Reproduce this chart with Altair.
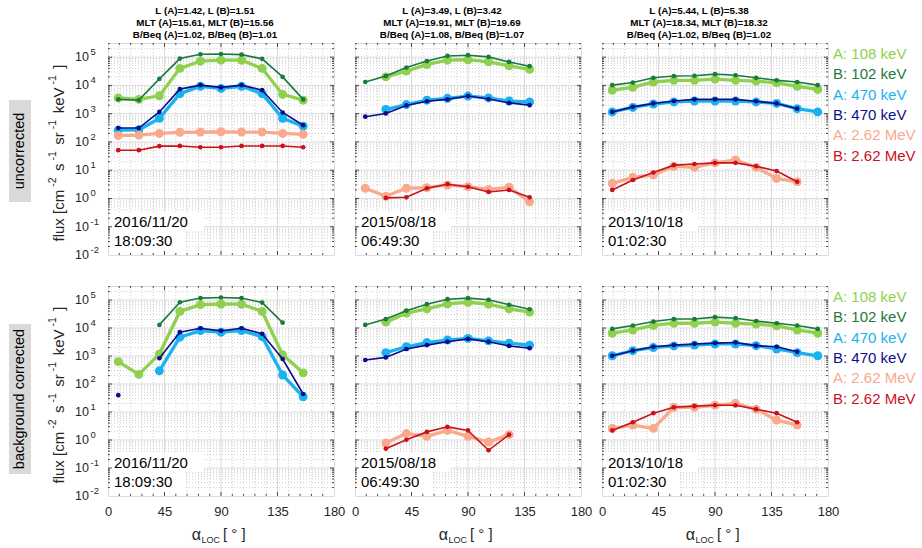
import altair as alt
import pandas as pd

# Pitch-angle bin centres: 11 equal bins spanning 0-180 deg
ALPHA_LOC = [8.18, 24.55, 40.91, 57.27, 73.64, 90.00, 106.36, 122.73, 139.09, 155.45, 171.82]

SERIES = ["A: 108 keV", "B: 102 keV", "A: 470 keV", "B: 470 keV", "A: 2.62 MeV", "B: 2.62 MeV"]
COLORS = ["#8fd14f", "#1b7a3d", "#18b2ef", "#0d0d8c", "#f9a98c", "#c8121e"]

DATES = ["2016/11/20", "2015/08/18", "2013/10/18"]
TIMES = ["18:09:30", "06:49:30", "01:02:30"]

L_LINES = ["L (A)=1.42, L (B)=1.51", "L (A)=3.49, L (B)=3.42", "L (A)=5.44, L (B)=5.38"]
MLT_LINES = ["MLT (A)=15.61, MLT (B)=15.56", "MLT (A)=19.91, MLT (B)=19.69", "MLT (A)=18.34, MLT (B)=18.32"]
BEQ_LINES = ["B/Beq (A)=1.02, B/Beq (B)=1.01", "B/Beq (A)=1.08, B/Beq (B)=1.07", "B/Beq (A)=1.02, B/Beq (B)=1.02"]

ROW_LABELS = ["uncorrected", "background corrected"]

# ---- fluxes, uncorrected ----
unc16_a108 = [3600, 3200, 4300, 40000, 72000, 78000, 78000, 40000, 4800, 3000]
unc16_b102 = [3200, 3000, 17000, 89000, 126000, 129000, 123000, 87000, 20000, 3200]
unc16_a470 = [260, 270, 680, 5100, 9300, 7800, 9300, 5100, 680, 360]
unc16_b470 = [310, 310, 1150, 7400, 10200, 8500, 10200, 6800, 1100, 390]
unc16_a262 = [166, 174, 200, 219, 224, 229, 224, 224, 200, 186]
unc16_b262 = [51, 51, 71, 72, 65, 65, 72, 72, 72, 65]

unc15_a108 = [None, 20000, 32000, 55000, 78000, 81000, 68000, 49000, 37000]
unc15_b102 = [13200, 21400, 42700, 72400, 110000, 117000, 102000, 67600, 47900]
unc15_a470 = [None, 1400, 2100, 3000, 3500, 4200, 3600, 2800, 2600]
unc15_b470 = [780, 1020, 1950, 2750, 3200, 4200, 3300, 2400, 2000]
unc15_a262 = [2.3, 1.2, 2.3, 2.4, 3.0, 2.6, 2.1, 2.5, 0.76]
unc15_b262 = [None, 1.05, 1.1, 2.3, 3.2, 2.6, 1.7, 2.0, 1.1]

unc13_a108 = [6800, 8500, 13200, 15100, 15100, 16600, 15100, 14100, 12300, 9300, 7200]
unc13_b102 = [10200, 12600, 18600, 21400, 21900, 25100, 22900, 18600, 15100, 13200, 10200]
unc13_a470 = [1150, 1660, 2200, 2600, 2800, 2800, 2800, 2600, 2300, 1500, 1150]
unc13_b470 = [1150, 1740, 2300, 2800, 3200, 3200, 3200, 2750, 2300, 1500, None]
unc13_a262 = [3.4, 5.6, 6.8, 13.8, 12.6, 18.2, 22.9, 12.6, 5.1, 3.9, None]
unc13_b262 = [2.0, 4.5, 8.3, 15.1, 16.6, 18.2, 18.2, 13.8, 9.3, 3.9, None]

# ---- fluxes, background corrected ----
cor16_a108 = [630, 220, 1170, 39000, 68000, 72000, 71000, 39000, 1100, 250]
cor16_b102 = [None, None, 12900, 83000, 117000, 123000, 117000, 81000, 15500, None]
cor16_a470 = [None, None, 295, 4700, 8100, 7100, 8100, 4900, 210, 35]
cor16_b470 = [40, None, 830, 7100, 9800, 7900, 9800, 6200, 780, 44]
cor16_a262 = [None] * 10
cor16_b262 = [None] * 10

cor15_a108 = [None, 16200, 33900, 47900, 72400, 83200, 70800, 47900, 37200]
cor15_b102 = [12900, 20900, 41700, 70800, 107000, 117000, 102000, 67600, 46800]
cor15_a470 = [None, 1320, 2140, 3020, 3720, 4270, 3470, 2880, 2450]
cor15_b470 = [720, 890, 1780, 2450, 3240, 4070, 3240, 2290, 1910]
cor15_a262 = [None, 0.78, 1.7, 1.35, 2.2, 1.35, 0.85, 1.55, None]
cor15_b262 = [None, 0.49, 1.02, 1.95, 2.95, 2.2, 0.43, 1.55, None]

cor13_a108 = [6500, 8500, 12300, 14800, 14800, 16200, 14800, 13800, 12000, 8500, 6500]
cor13_b102 = [9300, 12300, 17000, 20900, 20900, 24500, 22400, 17800, 14800, 12300, 9300]
cor13_a470 = [1020, 1550, 2000, 2290, 2450, 2690, 2690, 2340, 1780, 1320, 1020]
cor13_b470 = [1020, 1550, 2140, 2450, 2690, 2880, 3020, 2340, 2140, 1410, None]
cor13_a262 = [2.6, 3.4, 2.6, 14.8, 14.8, 17.4, 20.4, 12.6, 5.1, 3.4, None]
cor13_b262 = [2.2, 4.3, 9.1, 14.8, 16.2, 17.4, 17.4, 12.6, 9.1, 4.3, None]

PANELS = [
    [[unc16_a108, unc16_b102, unc16_a470, unc16_b470, unc16_a262, unc16_b262],
     [unc15_a108, unc15_b102, unc15_a470, unc15_b470, unc15_a262, unc15_b262],
     [unc13_a108, unc13_b102, unc13_a470, unc13_b470, unc13_a262, unc13_b262]],
    [[cor16_a108, cor16_b102, cor16_a470, cor16_b470, cor16_a262, cor16_b262],
     [cor15_a108, cor15_b102, cor15_a470, cor15_b470, cor15_a262, cor15_b262],
     [cor13_a108, cor13_b102, cor13_a470, cor13_b470, cor13_a262, cor13_b262]],
]

# ---- layout and style ----
W = 226
H = [212, 210]
FONT = "Liberation Sans"
INK = "#262626"
GRID_MAJOR = "#dcdcdc"
GRID_MINOR = "#bdbdbd"

XSCALE = alt.Scale(domain=[0, 180], nice=False, zero=False)
YSCALE = alt.Scale(type="log", domain=[1e-2, 10 ** 5.5], nice=False)

Y_EXPONENTS = list(range(-2, 6))
Y_DECADES = [10.0 ** k for k in Y_EXPONENTS]
Y_MINOR = [m * 10.0 ** k for k in range(-2, 6) for m in range(2, 10) if m * 10.0 ** k < 10 ** 5.5]
X_MAJOR = [0, 45, 90, 135, 180]
X_MINOR = [v for v in range(9, 180, 9) if v % 45]

# y-axis title as (text, is_superscript) pieces, read bottom-to-top
Y_TITLE_PIECES = [("flux [cm", False), ("-2", True), ("s", False), ("-1", True), ("sr", False),
                  ("-1", True), ("keV", False), ("-1", True), ("]", False)]
TITLE_SIZE, SUP_SIZE = 15, 10.5
# approximate Helvetica/Arial advance widths (em) for laying out the rotated title pieces
EM = {"f": .278, "l": .222, "u": .556, "x": .5, " ": .278, "[": .278, "]": .278, "c": .5, "m": .833,
      "s": .5, "r": .333, "k": .5, "e": .556, "V": .667, "-": .333, "1": .556, "2": .556}


def text_width(t, size):
    return sum(EM.get(ch, .556) for ch in t) * size


def one_row():
    return pd.DataFrame({"k": [0]})


def series_frame(values):
    rows = []
    for name, arr in zip(SERIES, values):
        seg = 0
        for i, v in enumerate(arr):
            if v is None:
                seg += 1
                continue
            rows.append({"alpha": ALPHA_LOC[i], "flux": v, "series": name,
                         "probe": name[0], "seg": f"{name}|{seg}"})
    return pd.DataFrame(rows, columns=["alpha", "flux", "series", "probe", "seg"])


def text(t, x, y, **kw):
    style = dict(font=FONT, baseline="middle")
    style.update(kw)
    return alt.Chart(one_row()).mark_text(text=t, **style).encode(x=alt.value(x), y=alt.value(y))


def box(x0, x1, y0, y1, fill):
    return alt.Chart(one_row()).mark_rect(color=fill).encode(
        x=alt.value(x0), x2=alt.value(x1), y=alt.value(y0), y2=alt.value(y1))


def y_title_layers(h):
    gap_after_sup, gap_after_word = 6.5, 3
    widths = [text_width(t, SUP_SIZE if sup else TITLE_SIZE) for t, sup in Y_TITLE_PIECES]
    total = sum(widths) + sum(gap_after_sup if sup else gap_after_word for _, sup in Y_TITLE_PIECES[:-1])
    y = h / 2 + 4 + total / 2  # bottom end of the rotated title
    out = []
    for (t, sup), wdt in zip(Y_TITLE_PIECES, widths):
        out.append(text(t, -55.5 if sup else -49, y, fontSize=SUP_SIZE if sup else TITLE_SIZE,
                        angle=270, align="left", color=INK))
        y -= wdt + (gap_after_sup if sup else gap_after_word)
    return out


def panel(values, row, col):
    h = H[row]
    df = series_frame(values)
    color = alt.Color("series:N", scale=alt.Scale(domain=SERIES, range=COLORS), legend=None)

    # every layer carries the same x-axis definition so the layered axes merge cleanly
    if row == 1:
        x_axis = alt.Axis(values=X_MAJOR, grid=False, ticks=False, domain=False, orient="bottom",
                          labelPadding=9, labelFont=FONT, labelFontSize=13, labelColor=INK,
                          labelFlush=False, labelOverlap=False, title=None)
    else:
        x_axis = None

    def ych(field):
        return alt.Y(field, type="quantitative", scale=YSCALE, axis=None)

    def xch(field):
        return alt.X(field, type="quantitative", scale=XSCALE, axis=x_axis)

    def hrules(vals, **style):
        return alt.Chart(pd.DataFrame({"v": vals})).mark_rule(**style).encode(y=ych("v"))

    def vrules(vals, **style):
        return alt.Chart(pd.DataFrame({"v": vals})).mark_rule(**style).encode(x=xch("v"))

    def yticks(vals, x0, x1):
        return alt.Chart(pd.DataFrame({"v": vals})).mark_rule(color=INK, strokeWidth=0.8).encode(
            y=ych("v"), x=alt.value(x0), x2=alt.value(x1))

    def xticks(vals, y0, y1):
        return alt.Chart(pd.DataFrame({"v": vals})).mark_rule(color=INK, strokeWidth=0.8).encode(
            x=xch("v"), y=alt.value(y0), y2=alt.value(y1))

    x = xch("alpha")
    y = ych("flux")
    base = alt.Chart(df)
    a_only = alt.datum.probe == "A"
    b_only = alt.datum.probe == "B"

    layers = [
        hrules(Y_MINOR, color=GRID_MINOR, strokeDash=[1, 2], strokeWidth=0.7),
        vrules(X_MINOR, color=GRID_MINOR, strokeDash=[1, 2], strokeWidth=0.7),
        hrules(Y_DECADES[1:], color=GRID_MAJOR, strokeWidth=1),
        vrules(X_MAJOR[1:-1], color=GRID_MAJOR, strokeWidth=1),
        # white boxes behind the date / time stamp
        box(2, 96, h - 43, h - 24, "white"),
        box(2, 76, h - 24, h - 4, "white"),
        text(DATES[col], 6, h - 33, fontSize=15, align="left", color="black"),
        text(TIMES[col], 6, h - 14, fontSize=15, align="left", color="black"),
        # spacecraft A: thick lines, large markers; spacecraft B: thin lines, small markers
        base.transform_filter(a_only).mark_line(strokeWidth=3.3).encode(x=x, y=y, color=color, detail="seg:N"),
        base.transform_filter(a_only).mark_circle(size=80, opacity=1).encode(x=x, y=y, color=color),
        base.transform_filter(b_only).mark_line(strokeWidth=1.6).encode(x=x, y=y, color=color, detail="seg:N"),
        base.transform_filter(b_only).mark_circle(size=22, opacity=1).encode(x=x, y=y, color=color),
        # inward ticks on all four sides
        yticks(Y_DECADES[1:], 0, 4), yticks(Y_MINOR, 0, 2),
        yticks(Y_DECADES[1:], W - 4, W), yticks(Y_MINOR, W - 2, W),
        xticks(X_MAJOR[1:-1], h - 4, h), xticks(X_MINOR, h - 2, h),
        xticks(X_MAJOR[1:-1], 0, 4), xticks(X_MINOR, 0, 2),
    ]

    if col == 0:
        # decade labels drawn as "10" plus a raised exponent
        dec = pd.DataFrame({"v": Y_DECADES, "e": [str(k) for k in Y_EXPONENTS]})
        layers += [
            alt.Chart(dec).mark_text(text="10", font=FONT, fontSize=12.5, align="right",
                                     baseline="middle", color=INK).encode(y=ych("v"), x=alt.value(-19)),
            alt.Chart(dec).mark_text(font=FONT, fontSize=9.5, align="left", baseline="middle",
                                     dy=-5, color=INK).encode(y=ych("v"), x=alt.value(-17.5), text="e:N"),
        ]
        layers += y_title_layers(h)
        half = 51 if row == 0 else 75
        shift = 2 if row == 0 else 8
        layers += [box(-99, -77, h / 2 + shift - half, h / 2 + shift + half, "#d9d9d9"),
                   text(ROW_LABELS[row], -88, h / 2 + shift, fontSize=14.5, angle=270,
                        align="center", color="black")]
    if col == 2:
        for i, (name, c) in enumerate(zip(SERIES, COLORS)):
            layers.append(text(name, W + 5, 11 + 20.3 * i, fontSize=15, align="left", color=c))
    if row == 1:
        layers += [text("\u03b1", W / 2 - 20, h + 39, fontSize=16, align="right", color=INK),
                   text("LOC", W / 2 - 19.5, h + 44, fontSize=9, align="left", color=INK),
                   text("[ \u00b0 ]", W / 2 + 2, h + 38, fontSize=15, align="left", color=INK)]

    chart = alt.layer(*layers).properties(width=W, height=h)
    if row == 0:
        chart = chart.properties(title=alt.TitleParams(
            text=[L_LINES[col], MLT_LINES[col], BEQ_LINES[col]],
            font=FONT, fontSize=9.8, fontWeight="bold", color="black",
            anchor="middle", dx=-16, offset=3, lineHeight=11.7))
    return chart


cells = [panel(PANELS[r][c], r, c) for r in range(2) for c in range(3)]

chart = alt.concat(*cells, columns=3, spacing={"row": 31, "column": 21}, bounds="flush").properties(
    padding={"left": 8, "top": 5, "right": 0, "bottom": 0},
    background="white",
).configure_view(stroke=INK, strokeWidth=0.8).configure(font=FONT)

chart.save("out.html", embed_options={"renderer": "svg", "actions": False})
